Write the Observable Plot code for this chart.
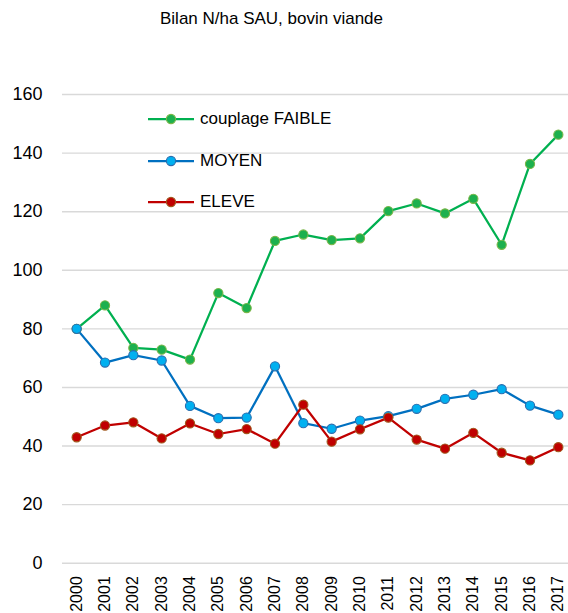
<!DOCTYPE html>
<html>
<head>
<meta charset="utf-8">
<script src="https://cdn.jsdelivr.net/npm/d3@7"></script>
<script src="https://cdn.jsdelivr.net/npm/@observablehq/plot@0.6"></script>
<style>
  html, body { margin: 0; padding: 0; background: #fff; }
  body { width: 568px; height: 613px; position: relative; overflow: hidden; font-family: "Liberation Sans", Arial, sans-serif; }
  #title { position: absolute; left: 0; width: 543px; top: 9px; text-align: center; font-size: 17px; color: #000; }
  #chart { position: absolute; left: 0; top: 0; }
  .leg { position: absolute; left: 146px; height: 20px; display: flex; align-items: center; font-size: 17px; color: #000; }
  .leg svg { margin-right: 6px; }
</style>
</head>
<body>
<div id="chart"></div>
<div id="title">Bilan N/ha SAU, bovin viande</div>
<div id="legend"></div>
<script>
const years = ["2000","2001","2002","2003","2004","2005","2006","2007","2008","2009","2010","2011","2012","2013","2014","2015","2016","2017"];
const faible = [80.0, 88.0, 73.5, 72.9, 69.5, 92.2, 87.1, 110.0, 112.2, 110.3, 110.9, 120.2, 122.8, 119.4, 124.4, 108.7, 136.3, 146.3];
const moyen  = [80.0, 68.5, 71.0, 69.2, 53.7, 49.5, 49.7, 67.2, 47.8, 45.9, 48.7, 50.2, 52.7, 56.1, 57.5, 59.4, 53.8, 50.7];
const eleve  = [43.0, 47.0, 48.1, 42.6, 47.7, 44.1, 45.8, 40.8, 54.1, 41.5, 45.7, 49.7, 42.2, 39.1, 44.5, 37.7, 35.1, 39.6];
const seriesNames = ["couplage FAIBLE", "MOYEN", "ELEVE"];
const yTicks = [0, 20, 40, 60, 80, 100, 120, 140, 160];

const styles = {
  "couplage FAIBLE": {line: "#00B050", fill: "#1DB04E", stroke: "#7AB648"},
  "MOYEN": {line: "#0070C0", fill: "#00B0F0", stroke: "#2A6DAE"},
  "ELEVE": {line: "#C00000", fill: "#C00000", stroke: "#A0581E"}
};

const seriesValues = [faible, moyen, eleve];
const data = [];
seriesNames.forEach((name, s) => {
  years.forEach((yr, i) => data.push({series: name, year: yr, value: seriesValues[s][i]}));
});

const marks = [
  Plot.ruleY(yTicks, {stroke: "#D9D9D9", strokeWidth: 1.4}),
  Plot.axisY({ticks: yTicks, tickSize: 0, tickPadding: 20, fontSize: 18, label: null}),
  Plot.axisX({tickSize: 0, tickPadding: 13, tickRotate: -90, fontSize: 16, label: null})
];
seriesNames.forEach(name => {
  const d = data.filter(r => r.series === name);
  const st = styles[name];
  marks.push(Plot.line(d, {x: "year", y: "value", stroke: st.line, strokeWidth: 2.25}));
});
seriesNames.forEach(name => {
  const d = data.filter(r => r.series === name);
  const st = styles[name];
  marks.push(Plot.dot(d, {x: "year", y: "value", r: 4.6, fill: st.fill, stroke: st.stroke, strokeWidth: 1.1}));
});

const chart = Plot.plot({
  width: 568,
  height: 613,
  marginTop: 94,
  marginBottom: 50.3,
  marginLeft: 62,
  marginRight: 0,
  style: {fontFamily: "'Liberation Sans', Arial, sans-serif", color: "#000", background: "#fff"},
  x: {type: "point", domain: years, range: [62, 572], padding: 0.5, round: false},
  y: {domain: [0, 160], range: [562.7, 94]},
  marks
});
document.getElementById("chart").appendChild(chart);

// legend
const legend = document.getElementById("legend");
const legendTops = [109, 151, 192];
seriesNames.forEach((name, i) => {
  const st = styles[name];
  const div = document.createElement("div");
  div.className = "leg";
  div.style.top = legendTops[i] + "px";
  div.innerHTML = `<svg width="48" height="20"><line x1="2" x2="48" y1="10" y2="10" stroke="${st.line}" stroke-width="2.25"/><circle cx="25" cy="10" r="4.6" fill="${st.fill}" stroke="${st.stroke}" stroke-width="1.1"/></svg><span>${name}</span>`;
  legend.appendChild(div);
});
</script>
</body>
</html>
